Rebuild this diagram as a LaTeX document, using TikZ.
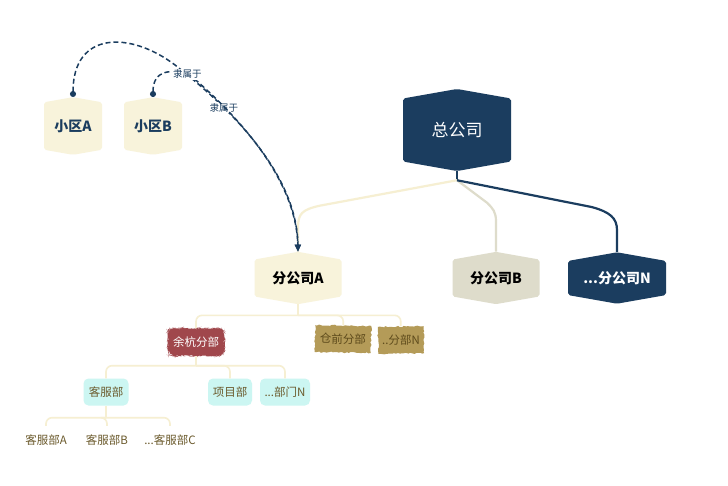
\documentclass[tikz,border=0pt]{standalone}
\usepackage{fontspec}
\setmainfont{Noto Sans CJK SC}
\usetikzlibrary{shapes.symbols,arrows.meta,decorations.pathmorphing,calc}

\definecolor{navy}{HTML}{1B3D5F}
\definecolor{cream}{HTML}{F8F3DB}
\definecolor{creamline}{HTML}{F6EFD2}
\definecolor{greige}{HTML}{DEDCCB}
\definecolor{brick}{HTML}{A0474C}
\definecolor{gold}{HTML}{B49B58}
\definecolor{goldtext}{HTML}{5E4B1C}
\definecolor{mint}{HTML}{CCF6F2}
\definecolor{olive}{HTML}{6B5A2C}

\begin{document}
\begin{tikzpicture}
[x=1pt,y=-1pt,
hexbox/.style={signal,signal to=north and south,signal pointer angle=160,rounded corners=2pt,inner sep=0pt},
bignode/.style={hexbox,fill=navy,text=white,minimum width=108pt,minimum height=72pt,font=\fontsize{17pt}{17pt}\selectfont},
areanode/.style={hexbox,fill=cream,text=navy,minimum width=58pt,minimum height=54pt,font=\fontsize{14pt}{14pt}\selectfont\bfseries},
branchnode/.style={hexbox,minimum width=87pt,minimum height=46pt,font=\fontsize{14pt}{14pt}\selectfont\bfseries},
roughnode/.style={inner xsep=6pt,inner ysep=0pt,minimum height=27pt,decorate,decoration={random steps,segment length=2pt,amplitude=0.7pt},font=\fontsize{11.5pt}{11.5pt}\selectfont},
deptnode/.style={fill=mint,text=olive,rounded corners=5pt,inner sep=0pt,minimum height=27pt,font=\fontsize{11.5pt}{11.5pt}\selectfont},
leafnode/.style={text=olive,inner sep=0pt,minimum height=28pt,font=\fontsize{11.5pt}{11.5pt}\selectfont},
tag/.style={fill=white,text=navy,inner sep=1pt,font=\fontsize{9.5pt}{9.5pt}\selectfont},
belong/.style={navy,line width=1.5pt,dash pattern=on 5pt off 3pt,{Circle[length=6pt]}-{Triangle[length=7pt,width=6pt]}},
trunk/.style={line width=2.2pt},
twig/.style={creamline,line width=1.6pt,rounded corners=6pt}]
\pgfmathsetseed{7}
\fill[white] (0,0) rectangle (728,485);

% company and branches
\node[bignode] (hq) at (457,130) {总公司};
\node[branchnode,fill=cream,text=black] (fa) at (298,278) {分公司A};
\node[branchnode,fill=greige,text=black] (fb) at (496,278) {分公司B};
\node[branchnode,fill=navy,text=white,minimum width=98pt] (fn) at (617,278) {...分公司N};

% areas
\node[areanode] (qa) at (73,126) {小区A};
\node[areanode] (qb) at (153,126) {小区B};

% sub-branches
\node[roughnode,fill=brick,text=white,rounded corners=5pt,inner xsep=5pt] (yh) at (196,342) {余杭分部};
\node[roughnode,fill=gold,text=goldtext,inner xsep=5pt,rotate=-1] (cq) at (343,339) {仓前分部};
\node[roughnode,fill=gold,text=goldtext,inner xsep=4pt,rotate=1] (bn) at (401,340) {..分部N};

% departments
\node[deptnode,minimum width=45pt] (kf) at (106,392) {客服部};
\node[deptnode,minimum width=44pt] (xm) at (230,392) {项目部};
\node[deptnode,minimum width=50pt] (bm) at (285,392) {...部门N};
\node[leafnode] (ka) at (46,440) {客服部A};
\node[leafnode] (kb) at (107,440) {客服部B};
\node[leafnode] (kc) at (170,440) {...客服部C};

% company tree
\draw[trunk,navy] (hq.south) -- ++(0,9) coordinate (hqj);
\draw[trunk,creamline] (hqj) -- ($(fa.north)+(22,-46)$) .. controls +(-18,4) and +(0,-14) .. ($(fa.north)+(0,-24)$) -- (fa.north);
\draw[trunk,greige] (hqj) -- ($(fb.north)+(-9,-49)$) .. controls +(6,6) and +(0,-10) .. ($(fb.north)+(0,-30)$) -- (fb.north);
\draw[trunk,navy] (hqj) -- ($(fn.north)+(-25,-45)$) .. controls +(18,5) and +(0,-12) .. ($(fn.north)+(0,-22)$) -- (fn.north);

% branch A tree
\draw[twig] (fa.south) -- ++(0,11) coordinate (faj);
\draw[twig] (faj) -| (yh.north);
\draw[twig] (faj) -| (cq.north);
\draw[twig] (faj) -| (bn.north);
\draw[twig] (yh.south) -- ++(0,10) coordinate (yhj);
\draw[twig] (yhj) -| (kf.north);
\draw[twig] (yhj) -| (xm.north);
\draw[twig] (yhj) -| (bm.north);
\draw[twig] (kf.south) -- ++(0,12) coordinate (kfj);
\draw[twig] (kfj) -| (ka.north);
\draw[twig] (kfj) -| (kb.north);
\draw[twig] (kfj) -| (kc.north);

% belongs-to links
\draw[belong] (qa.north) .. controls +(0,-66) and +(-45,-34) .. ++(102,-32)
  .. controls +(55,43) and +(-1,-78) .. node[tag,pos=0.29] {隶属于} (fa.north);
\draw[belong] (qb.north) .. controls +(0,-28) and +(-18,-6) .. node[tag,pos=0.95] {隶属于} ++(37,-22)
  .. controls +(42,36) and +(-2,-76) .. (fa.north);
\end{tikzpicture}
\end{document}
